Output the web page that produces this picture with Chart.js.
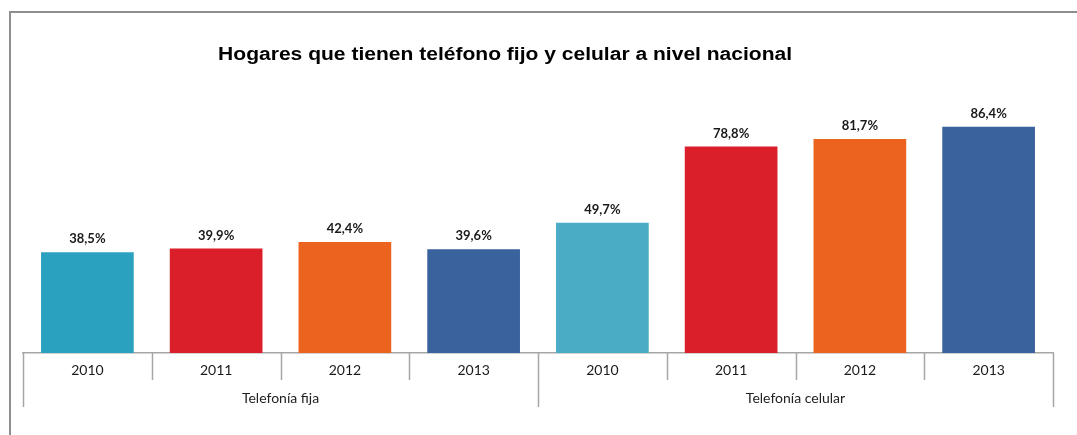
<!DOCTYPE html>
<html>
<head>
<meta charset="utf-8">
<script src="https://cdn.jsdelivr.net/npm/chart.js@4.4.1/dist/chart.umd.min.js"></script>
<style>
    html, body { margin: 0; padding: 0; background: #fff; overflow: hidden; }
    #marco {
        position: absolute; left: 9px; top: 11px;
        width: 2000px; height: 1000px;
        border: 2px solid #8f8f8f;
    }
    #wrap { position: absolute; left: 0; top: 0; width: 1077px; height: 435px; }
</style>
</head>
<body>
<div id="marco"></div>
<div id="wrap"><canvas id="grafico"></canvas></div>
<script>
// Datos del grafico
const titulo = 'Hogares que tienen teléfono fijo y celular a nivel nacional';
const anios = ['2010', '2011', '2012', '2013', '2010', '2011', '2012', '2013'];
const valores = [38.5, 39.9, 42.4, 39.6, 49.7, 78.8, 81.7, 86.4];
const grupos = ['Telefonía fija', 'Telefonía celular'];
const barrasPorGrupo = 4;
const colores = ['#2aa1bf', '#da1f2a', '#eb631e', '#3a629c',
                 '#4bacc6', '#da1f2a', '#eb631e', '#3a629c'];

const colorLinea = '#a6a6a6';

// Titulo, etiquetas de valor y eje de dos niveles
const extras = {
    id: 'extras',
    afterDraw(chart) {
        const ctx = chart.ctx;
        const x = chart.scales.x;
        const area = chart.chartArea;
        const meta = chart.getDatasetMeta(0);
        ctx.save();

        // titulo (algo estirado a lo ancho, como en el original)
        ctx.save();
        ctx.fillStyle = '#000';
        ctx.font = 'bold 18px "Liberation Sans", Arial, sans-serif';
        ctx.textAlign = 'center';
        ctx.textBaseline = 'middle';
        const anchoTitulo = ctx.measureText(titulo).width;
        const estira = 574 / anchoTitulo;
        ctx.translate(chart.width * 0.469, 55);
        ctx.scale(estira, 1);
        ctx.fillText(titulo, 0, 0);
        ctx.restore();

        ctx.textAlign = 'center';
        ctx.textBaseline = 'middle';

        // etiquetas sobre las barras
        ctx.font = 'bold 13px Lato, sans-serif';
        ctx.fillStyle = '#1a1a1a';
        meta.data.forEach((bar, i) => {
            const txt = valores[i].toFixed(1).replace('.', ',') + '%';
            ctx.fillText(txt, bar.x, bar.y - 13);
        });

        // separadores del eje
        const ancho = (x.right - x.left) / anios.length;
        const y0 = area.bottom;
        ctx.strokeStyle = colorLinea;
        ctx.lineWidth = 1.5;
        for (let i = 0; i <= anios.length; i++) {
            const px = Math.round(x.left + i * ancho) + 0.5;
            const largo = (i % barrasPorGrupo === 0) ? 54 : 27;
            ctx.beginPath();
            ctx.moveTo(px, y0);
            ctx.lineTo(px, y0 + largo);
            ctx.stroke();
        }

        // nombres de grupo
        ctx.font = '14px Lato, sans-serif';
        ctx.fillStyle = '#222';
        grupos.forEach((g, j) => {
            const cx = x.left + (j + 0.5) * barrasPorGrupo * ancho;
            ctx.fillText(g, cx, y0 + 45);
        });
        ctx.restore();
    }
};

new Chart(document.getElementById('grafico'), {
    type: 'bar',
    data: {
        labels: anios,
        datasets: [{
            data: valores,
            backgroundColor: colores,
            borderWidth: 0,
            categoryPercentage: 1,
            barPercentage: 0.72
        }]
    },
    options: {
        responsive: true,
        maintainAspectRatio: false,
        animation: false,
        layout: { padding: { top: 91, left: 23, right: 24, bottom: 0 } },
        plugins: {
            legend: { display: false },
            title: { display: false },
            tooltip: { enabled: false }
        },
        scales: {
            x: {
                afterFit: s => { s.height = 82; },
                grid: { display: false },
                border: { display: true, color: colorLinea, width: 1.5 },
                ticks: {
                    padding: 1,
                    color: '#1a1a1a',
                    font: { family: 'Lato', size: 14 }
                }
            },
            y: {
                display: false,
                min: 0,
                max: 100
            }
        }
    },
    plugins: [extras]
});
</script>
</body>
</html>
